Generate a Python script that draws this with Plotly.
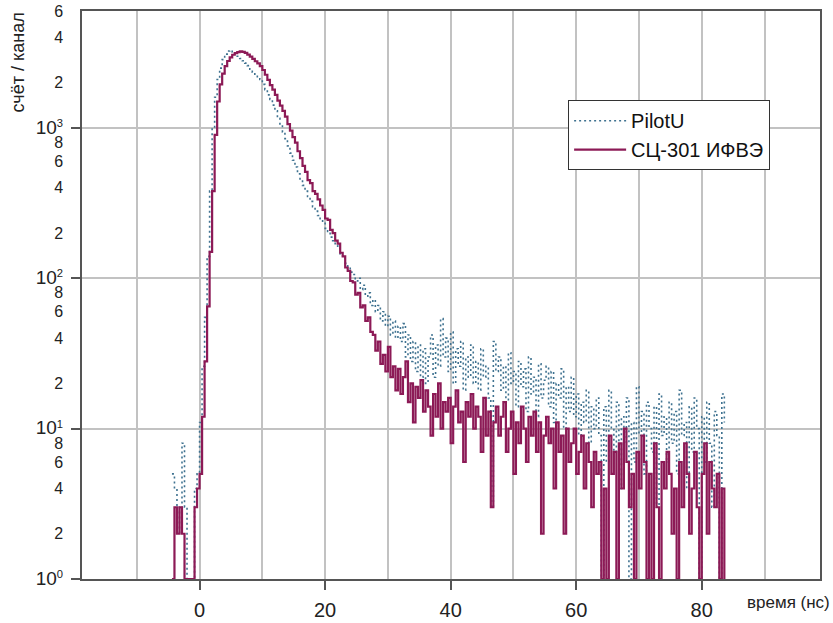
import numpy as np
import plotly.graph_objects as go

# Time channels: 0.4 ns wide, first channel at -4.4 ns
T_START = -4.4
T_STEP = 0.4

# Counts per channel, SC-301 (IHEP) scintillator
counts_sc301 = [
    1, 3, 2, 3, 2, 1, 1, 1, 1, 3,
    4, 5, 12, 28, 65, 150, 380, 900, 1500, 1950,
    2300, 2580, 2790, 2950, 3070, 3150, 3200, 3230, 3210, 3160,
    3080, 2980, 2880, 2780, 2690, 2580, 2430, 2260, 2090, 1930,
    1800, 1660, 1520, 1410, 1300, 1190, 1060, 960, 870, 800,
    700, 630, 560, 510, 450, 430, 380, 365, 335, 305,
    285, 250, 245, 210, 200, 178, 170, 148, 140, 118,
    112, 96, 94, 78, 80, 64, 66, 52, 55, 44,
    42, 33, 38, 27, 31, 24, 35, 22, 26, 18,
    25, 17, 22, 28, 15, 20, 11, 19, 16, 21,
    13, 18, 14, 9, 17, 12, 20, 10, 15, 13,
    16, 8, 14, 18, 11, 13, 6, 15, 12, 17,
    10, 14, 12, 7, 16, 9, 13, 3, 11, 14,
    9, 12, 15, 7, 10, 13, 5, 11, 8, 14,
    10, 6, 12, 9, 13, 7, 11, 2, 9, 12,
    8, 10, 4, 11, 7, 9, 2, 10, 6, 8,
    10, 5, 7, 9, 4, 8, 6, 3, 7, 5,
    6, 1, 4, 1, 9, 5, 7, 1, 8, 4,
    10, 6, 3, 5, 1, 7, 4, 9, 6, 1,
    5, 1, 8, 3, 1, 6, 4, 7, 5, 2,
    4, 1, 6, 3, 8, 5, 2, 4, 7, 3,
    1, 5, 8, 2, 6, 4, 3, 5, 1, 4,
    1,
]

# Counts per channel, PilotU scintillator
counts_pilotu = [
    5, 4, 3, 2, 8, 3, 1, 1, 1, 4,
    5, 11, 26, 55, 140, 380, 1000, 1600, 2100, 2500,
    2850, 3100, 3250, 3280, 3200, 3100, 3000, 2900, 2800, 2700,
    2600, 2460, 2350, 2250, 2160, 2100, 1950, 1800, 1660, 1550,
    1420, 1300, 1160, 1050, 940, 850, 760, 680, 610, 550,
    495, 450, 415, 380, 350, 325, 300, 280, 262, 245,
    232, 215, 205, 188, 178, 166, 158, 145, 138, 126,
    120, 110, 106, 96, 100, 84, 90, 76, 80, 66,
    72, 60, 66, 52, 60, 48, 56, 42, 52, 40,
    48, 38, 50, 30, 42, 28, 38, 24, 36, 22,
    34, 20, 30, 42, 22, 36, 26, 54, 30, 40,
    24, 44, 20, 34, 26, 38, 18, 30, 22, 36,
    20, 28, 18, 34, 22, 26, 16, 3, 38, 24,
    30, 18, 26, 15, 32, 20, 24, 14, 28, 19,
    25, 13, 30, 17, 22, 12, 27, 16, 21, 26,
    14, 24, 11, 20, 16, 25, 10, 19, 13, 22,
    12, 17, 9, 15, 11, 18, 8, 14, 10, 16,
    9, 1, 14, 6, 18, 10, 7, 15, 4, 12,
    8, 16, 1, 11, 6, 19, 9, 13, 5, 15,
    10, 7, 14, 3, 17, 9, 12, 6, 15, 8,
    13, 5, 18, 9, 11, 4, 14, 7, 16, 10,
    1, 12, 6, 15, 8, 3, 13, 9, 1, 17,
    11,
]

series_names = ["PilotU", "СЦ-301 ИФВЭ"]

# Axis ticks
x_labeled_ticks = [0, 20, 40, 60, 80]
x_grid_ticks = [-10, 10, 30, 50, 70, 90]
y_decades = [1, 10, 100, 1000]
y_tick_vals = [1, 2, 4, 6, 8, 10, 20, 40, 60, 80, 100, 200, 400, 600, 800,
               1000, 2000, 4000, 6000]


def decade_label(power):
    return '<span style="font-size:19px">10</span><sup>%d</sup>' % power


y_tick_text = [decade_label(0), "2", "4", "6", "8",
               decade_label(1), "2", "4", "6", "8",
               decade_label(2), "2", "4", "6", "8",
               decade_label(3), "2", "4", "6"]

t_pilot = T_START + T_STEP * np.arange(len(counts_pilotu))
t_sc = T_START + T_STEP * np.arange(len(counts_sc301))

FONT = "Liberation Sans, Arial, sans-serif"
GRID = "#c2c2c2"
FRAME = "#555555"
TEXT = "#222222"

fig = go.Figure()
fig.add_trace(go.Scatter(
    x=t_pilot, y=counts_pilotu, name=series_names[0], mode="lines",
    line=dict(color="#3f7290", width=1.6, dash="2px,3px", shape="hv"),
))
fig.add_trace(go.Scatter(
    x=t_sc, y=counts_sc301, name=series_names[1], mode="lines",
    line=dict(color="#8c1a56", width=2.2, shape="hv"),
))

fig.update_layout(
    width=833, height=623,
    margin=dict(l=82, r=13, t=11, b=44),
    paper_bgcolor="white", plot_bgcolor="white",
    font=dict(family=FONT, size=16, color=TEXT),
    legend=dict(
        x=0.6587, y=0.843, xanchor="left", yanchor="top",
        bgcolor="white", bordercolor="#333333", borderwidth=1,
        font=dict(family=FONT, size=20, color="#111111"),
        itemwidth=52, tracegroupgap=0,
    ),
    xaxis=dict(
        range=[-18.73, 98.84],
        automargin=False,
        tickvals=x_labeled_ticks,
        ticktext=[str(v) for v in x_labeled_ticks],
        ticks="outside", ticklen=9, tickcolor=FRAME, tickwidth=1.5,
        ticklabelstandoff=3,
        showgrid=True, gridcolor=GRID, gridwidth=1.5,
        minor=dict(tickvals=x_grid_ticks, showgrid=True, gridcolor=GRID,
                   gridwidth=1.5, ticks=""),
        showline=True, linecolor=FRAME, linewidth=1.5, mirror=True,
        zeroline=False,
        tickfont=dict(size=20),
    ),
    yaxis=dict(
        type="log",
        range=[0, np.log10(6000)],
        automargin=False,
        tickvals=y_tick_vals, ticktext=y_tick_text,
        ticks="outside", ticklen=14, tickcolor="rgba(0,0,0,0)",
        showgrid=False,
        minor=dict(tickvals=y_decades, showgrid=True, gridcolor=GRID,
                   gridwidth=1.5, ticks="outside", ticklen=9,
                   tickcolor=FRAME, tickwidth=1.5),
        showline=True, linecolor=FRAME, linewidth=1.5, mirror=True,
        zeroline=False,
        tickfont=dict(size=16),
    ),
    annotations=[
        dict(text="счёт / канал", xref="paper", yref="paper",
             x=-0.0863, y=0.91, xanchor="center", yanchor="middle",
             textangle=-90, showarrow=False,
             font=dict(family=FONT, size=18, color=TEXT)),
        dict(text="время (нс)", xref="paper", yref="paper",
             x=0.957, y=-0.0422, xanchor="center", yanchor="middle",
             showarrow=False,
             font=dict(family=FONT, size=17, color=TEXT)),
    ],
)

fig.write_html("out.html")
